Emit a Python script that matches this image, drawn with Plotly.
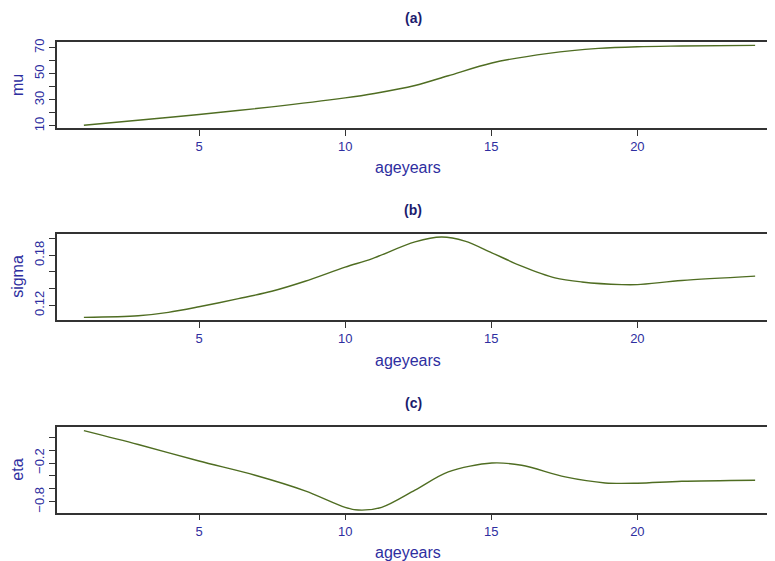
import plotly.graph_objects as go

# ---- data ----
age_mu = [1.06, 3.0, 5.0, 7.49, 10.0, 11.0, 12.39, 13.53, 15.02, 16.96, 18.67, 20.0, 21.5, 24.03]
mu = [10.5, 14.5, 18.8, 24.6, 31.5, 34.9, 41.0, 48.5, 58.3, 65.7, 69.5, 70.8, 71.3, 71.8]

age_sigma = [1.06, 2.92, 3.95, 5.0, 6.35, 7.49, 8.63, 10.0, 10.91, 12.39, 13.3, 14.1, 15.02,
             16.04, 17.18, 18.1, 19.47, 20.0, 21.52, 24.03]
sigma = [0.1055, 0.1075, 0.1116, 0.1183, 0.128, 0.1369, 0.1489, 0.1658, 0.1758, 0.196, 0.2019,
         0.197, 0.183, 0.167, 0.1529, 0.148, 0.1448, 0.1448, 0.1497, 0.155]

age_eta = [1.06, 2.92, 5.0, 6.92, 8.63, 10.0, 10.45, 11.25, 12.39, 13.53, 15.02, 16.04, 17.53,
           18.9, 20.0, 21.52, 24.03]
eta = [0.303, 0.088, -0.169, -0.389, -0.631, -0.886, -0.928, -0.886, -0.62, -0.338, -0.2,
       -0.235, -0.415, -0.508, -0.512, -0.482, -0.466]

panel_titles = ["(a)", "(b)", "(c)"]
y_titles = ["mu", "sigma", "eta"]
x_title = "ageyears"
x_ticks = [5, 10, 15, 20]
mu_ticks = [10, 20, 30, 40, 50, 60, 70]
mu_ticklabels = ["10", "", "30", "", "50", "", "70"]
sigma_ticks = [0.12, 0.14, 0.16, 0.18, 0.20]
sigma_ticklabels = ["0.12", "", "", "0.18", ""]
eta_ticks = [-0.8, -0.6, -0.4, -0.2, 0.0, 0.2]
eta_ticklabels = ["\u22120.8", "", "", "\u22120.2", "", ""]

LINE = "#4f6d22"
TICKC = "#2e2ea0"
TITLEC = "#1c1c6e"
AXC = "#333333"
FONT = "Liberation Sans, Arial, Helvetica, sans-serif"

# the page body has an 8px margin; size the figure so it fills the 775x561 window
OFF = 8
W, H = 775 - OFF, 561 - OFF


def px(xp):
    return (xp - OFF) / W


def py(yp):
    return 1 - (yp - OFF) / H


fig = go.Figure()

panels = [(42, 128), (233.7, 320), (426.7, 512.7)]   # page pixel top/bottom of each panel
yranges = [(8.4, 74.4), (0.1024, 0.2059), (-0.969, 0.363)]
ydata = [(age_mu, mu), (age_sigma, sigma), (age_eta, eta)]
yticks = [(mu_ticks, mu_ticklabels), (sigma_ticks, sigma_ticklabels), (eta_ticks, eta_ticklabels)]

layout = dict(
    width=W, height=H,
    margin=dict(l=0, r=0, t=0, b=0, autoexpand=False),
    paper_bgcolor="white", plot_bgcolor="white",
    showlegend=False,
    font=dict(family=FONT, color=TICKC),
)

annotations = []
for i, ((top, bot), yr, (xs, ys), (tv, tt)) in enumerate(zip(panels, yranges, ydata, yticks)):
    n = "" if i == 0 else str(i + 1)
    xa = "x" + n
    ya = "y" + n
    fig.add_trace(go.Scatter(x=xs, y=ys, mode="lines", xaxis=xa, yaxis=ya,
                             line=dict(color=LINE, width=1.4, shape="spline", smoothing=0.9),
                             hoverinfo="skip"))
    dom = [py(bot), py(top)]
    layout["xaxis" + n] = dict(
        range=[0.14, 24.71], domain=[px(57), 1], anchor=ya, automargin=False,
        tickvals=x_ticks, ticktext=[str(v) for v in x_ticks],
        ticks="outside", ticklen=6, tickwidth=1.2, tickcolor=AXC,
        showline=True, linecolor=AXC, linewidth=1.5, mirror=True,
        showgrid=False, zeroline=False,
        tickfont=dict(size=13, color=TICKC, family=FONT),
    )
    layout["yaxis" + n] = dict(
        range=list(yr), domain=dom, anchor=xa, automargin=False,
        tickvals=tv, ticktext=tt, tickangle=-90,
        ticks="outside", ticklen=6, tickwidth=1.2, tickcolor=AXC,
        showline=True, linecolor=AXC, linewidth=1.5, mirror=False,
        showgrid=False, zeroline=False,
        tickfont=dict(size=13, color=TICKC, family=FONT),
    )
    annotations.append(dict(text="<b>" + panel_titles[i] + "</b>", x=px(413), y=py(top - 24),
                            xref="paper", yref="paper", showarrow=False, xanchor="center",
                            yanchor="middle", font=dict(size=14, color=TITLEC, family=FONT)))
    annotations.append(dict(text=x_title, x=px(408), y=py(bot + 40),
                            xref="paper", yref="paper", showarrow=False, xanchor="center",
                            yanchor="middle", font=dict(size=16, color=TICKC, family=FONT)))
    annotations.append(dict(text=y_titles[i], x=px(18), y=py((top + bot) / 2),
                            xref="paper", yref="paper", showarrow=False, xanchor="center",
                            yanchor="middle", textangle=-90,
                            font=dict(size=16, color=TICKC, family=FONT)))

layout["annotations"] = annotations
fig.update_layout(**layout)
fig.write_html("out.html")
